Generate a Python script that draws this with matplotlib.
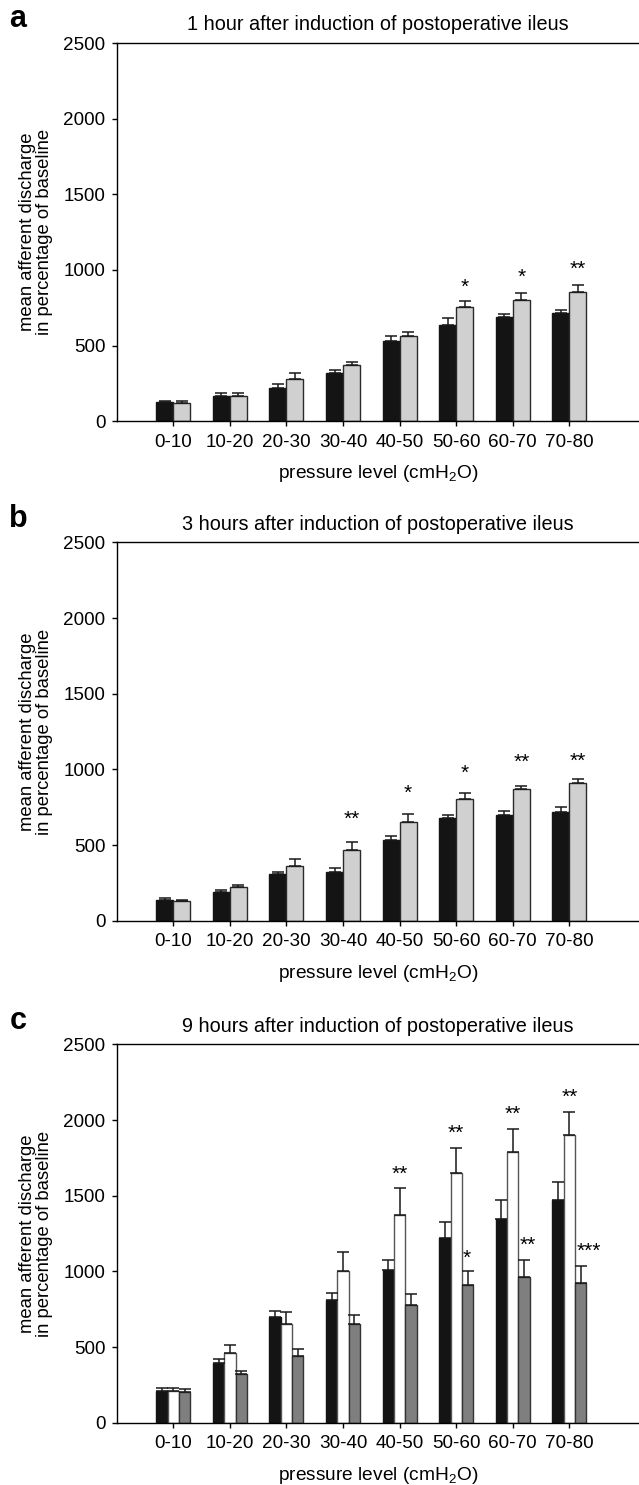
import matplotlib.pyplot as plt
import numpy as np

categories = ["0-10", "10-20", "20-30", "30-40", "40-50", "50-60", "60-70", "70-80"]

# panel a - 1 hour
a_black = [126, 170, 223, 316, 532, 634, 687, 713]
a_black_err = [6, 15, 22, 26, 31, 46, 22, 20]
a_gray = [124, 166, 278, 369, 565, 753, 804, 852]
a_gray_err = [11, 19, 38, 20, 22, 42, 46, 49]
a_stars = ["", "", "", "", "", "*", "*", "**"]
a_stars_y = [0, 0, 0, 0, 0, 929, 996, 1046]

# panel b - 3 hours
b_black = [139, 190, 309, 322, 534, 678, 698, 720]
b_black_err = [9, 11, 16, 29, 29, 20, 28, 33]
b_gray = [128, 221, 362, 466, 653, 806, 868, 909]
b_gray_err = [7, 17, 44, 51, 49, 39, 24, 27]
b_stars = ["", "", "", "**", "*", "*", "**", "**"]
b_stars_y = [0, 0, 0, 711, 883, 1015, 1086, 1099]

# panel c - 9 hours
c_black = [209, 394, 698, 811, 1007, 1220, 1348, 1469]
c_black_err = [20, 25, 40, 46, 70, 106, 123, 121]
c_white = [207, 458, 650, 1000, 1374, 1650, 1789, 1903]
c_white_err = [22, 57, 83, 128, 177, 165, 154, 152]
c_dark = [205, 319, 443, 654, 780, 907, 960, 925]
c_dark_err = [20, 25, 44, 60, 68, 97, 113, 112]
c_white_stars = ["", "", "", "", "**", "**", "**", "**"]
c_white_stars_y = [0, 0, 0, 0, 1685, 1954, 2081, 2192]
c_dark_stars = ["", "", "", "", "", "*", "**", "***"]
c_dark_stars_y = [0, 0, 0, 0, 0, 1132, 1216, 1176]

titles = ["1 hour after induction of postoperative ileus",
          "3 hours after induction of postoperative ileus",
          "9 hours after induction of postoperative ileus"]
letters = ["a", "b", "c"]

plt.rcParams["font.family"] = ["Liberation Sans", "DejaVu Sans"]
plt.rcParams["mathtext.fontset"] = "custom"
plt.rcParams["mathtext.rm"] = "Liberation Sans"
FS = 13.6

fig = plt.figure(figsize=(6.39, 14.85), dpi=100)
W, H = 639.0, 1485.0
left = 116.7 / W
width = 1 - left
height = 378.3 / H
bottoms = [1 - 421.3 / H, 1 - 920.7 / H, 1 - 1422.7 / H]

x = np.arange(len(categories))
err_kw = dict(ecolor="#1a1a1a", elinewidth=1.1, capsize=4, capthick=1.1)


def draw_bars(ax, pos, vals, errs, w, color, edge):
    ax.bar(pos, vals, width=w, color=color, edgecolor=edge, linewidth=1.0,
           yerr=[np.zeros(len(vals)), errs], error_kw=err_kw, zorder=2)


def put_stars(ax, xs, labels, ys, ha="center"):
    for xi, s, yi in zip(xs, labels, ys):
        if s:
            ax.annotate(s, xy=(xi, yi), xytext=(0, -8.6), textcoords="offset points",
                        ha=ha, va="baseline", fontsize=15)


axes = []
for i in range(3):
    ax = fig.add_axes([left, bottoms[i], width, height])
    axes.append(ax)
    ax.set_xlim(-1, 8.23)
    ax.set_ylim(0, 2500)
    ax.set_yticks([0, 500, 1000, 1500, 2000, 2500])
    ax.set_xticks(x)
    ax.set_xticklabels(categories)
    ax.spines["right"].set_visible(False)
    for sp in ["top", "left", "bottom"]:
        ax.spines[sp].set_linewidth(1.0)
    ax.tick_params(axis="y", direction="out", length=3.6, width=1, pad=4.6, labelsize=FS)
    ax.tick_params(axis="x", direction="out", length=3.6, width=1, pad=5.5, labelsize=FS)
    ax.set_xlabel("pressure level (cmH$_2$O)", fontsize=13.8)
    ax.xaxis.set_label_coords(0.5, -0.111)
    ax.set_title(titles[i], fontsize=14.3, pad=9.1)
    ax.text(-0.2056, 1.042, letters[i], transform=ax.transAxes, ha="left", va="baseline",
            fontsize=22, fontweight="bold")
    fig.text(36 / W, bottoms[i] + height / 2,
             "mean afferent discharge\nin percentage of baseline",
             rotation=90, ha="center", va="center", fontsize=13.3, linespacing=1.0)

# a
ax = axes[0]
draw_bars(ax, x - 0.15, a_black, a_black_err, 0.3, "#141414", "#141414")
draw_bars(ax, x + 0.15, a_gray, a_gray_err, 0.3, "#d0d0d0", "#2a2a2a")
put_stars(ax, x + 0.15, a_stars, a_stars_y)

# b
ax = axes[1]
draw_bars(ax, x - 0.15, b_black, b_black_err, 0.3, "#141414", "#141414")
draw_bars(ax, x + 0.15, b_gray, b_gray_err, 0.3, "#d0d0d0", "#2a2a2a")
put_stars(ax, x + 0.15, b_stars, b_stars_y)

# c
ax = axes[2]
draw_bars(ax, x - 0.2, c_black, c_black_err, 0.2, "#141414", "#141414")
draw_bars(ax, x, c_white, c_white_err, 0.2, "w", "#555555")
draw_bars(ax, x + 0.2, c_dark, c_dark_err, 0.2, "#7f7f7f", "#333333")
put_stars(ax, x, c_white_stars, c_white_stars_y)
put_stars(ax, x + 0.12, c_dark_stars, c_dark_stars_y, ha="left")

fig.savefig("out.png", dpi=100)
